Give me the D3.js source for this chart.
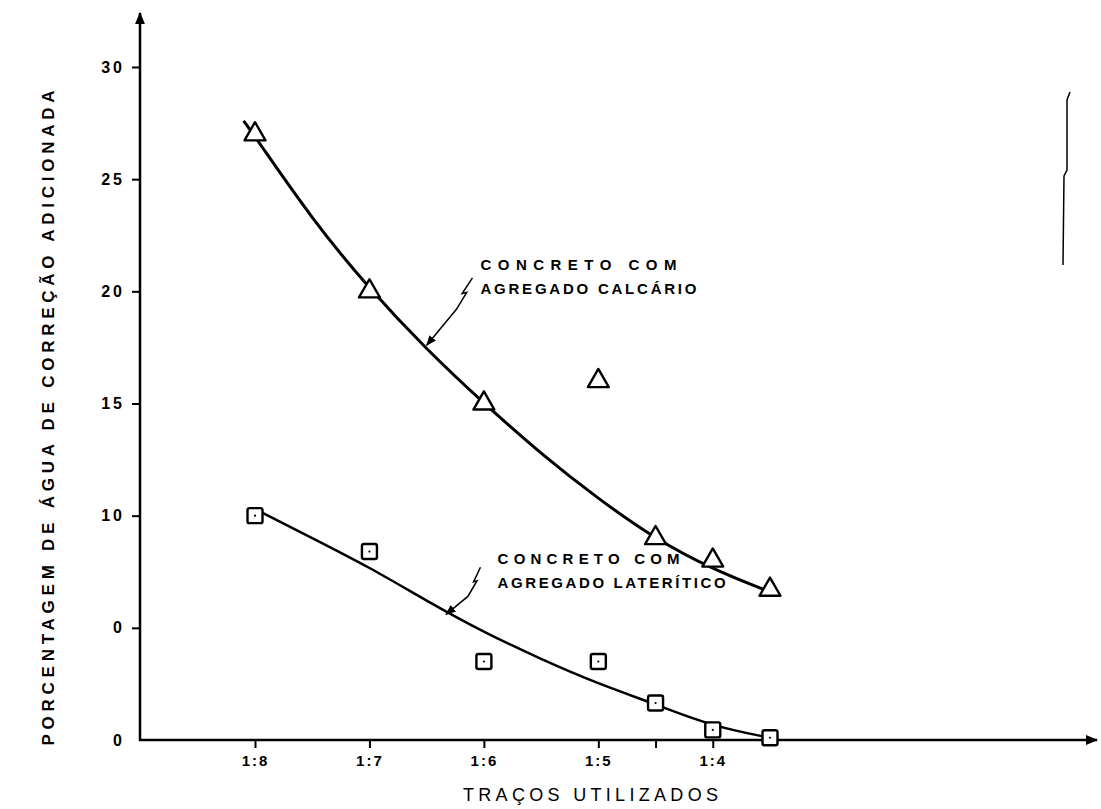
<!doctype html>
<head>
    <meta charset="utf-8">
    <title>Porcentagem de agua de correcao</title>
    <script src="https://d3js.org/d3.v7.min.js"></script>
    <style>
        body {margin:0; background:#fff;}
        svg {display:block;}
        .tick text {font-family:"Liberation Sans", Arial, sans-serif; font-weight:bold; fill:#000;}
        .tick line {stroke:#000; stroke-width:2;}
        .lbl {font-family:"Liberation Sans", Arial, sans-serif; font-weight:bold; font-size:15px; fill:#000;}
    </style>
</head>
<body>
<script>
    "use strict";
    // tracos (1:m) -> m
    var xTicks = [8, 7, 6, 5, 4.5, 4];
    var xTickLabels = ["1:8", "1:7", "1:6", "1:5", "", "1:4"];
    var yTicks = [0, 5, 10, 15, 20, 25, 30];
    var yTickLabels = ["0", "0", "10", "15", "20", "25", "30"]; // scan prints "0" at 5

    // medidos
    var tracos = [8, 7, 6, 5, 4.5, 4, 3.5];
    var calcario = [27, 20, 15, 16, 9, 8, 6.7];
    var lateritico = [10, 8.4, 3.5, 3.5, 1.65, 0.45, 0.1];

    // curvas ajustadas
    var calcCurveX = [8.1, 8, 7.5, 7, 6.5, 6, 5.5, 5, 4.5, 4, 3.5];
    var calcCurveY = [27.6, 26.9, 23.2, 20.1, 17.4, 15.0, 12.75, 10.75, 8.95, 7.6, 6.6];
    var latCurveX = [8, 7.5, 7, 6.5, 6, 5.5, 5, 4.5, 4, 3.5];
    var latCurveY = [10.3, 9.0, 7.7, 6.2, 4.8, 3.6, 2.5, 1.6, 0.6, 0.1];

    var W = 1101, H = 809;
    var x = d3.scaleLinear().domain([8, 3.5]).range([255, 770]);
    var y = d3.scaleLinear().domain([0, 30]).range([740, 67]);
    var x0 = 140, y0 = 740;

    var svg = d3.select("body").append("svg").attr("width", W).attr("height", H);

    var defs = svg.append("defs");
    defs.append("marker").attr("id", "arr").attr("viewBox", "0 0 10 10")
        .attr("refX", 9).attr("refY", 5).attr("markerWidth", 5).attr("markerHeight", 5)
        .attr("markerUnits", "strokeWidth").attr("orient", "auto")
        .append("path").attr("d", "M0,1 L10,5 L0,9 Z").attr("fill", "#000");
    defs.append("marker").attr("id", "arrSmall").attr("viewBox", "0 0 10 10")
        .attr("refX", 9).attr("refY", 5).attr("markerWidth", 7).attr("markerHeight", 7)
        .attr("markerUnits", "strokeWidth").attr("orient", "auto")
        .append("path").attr("d", "M0,1 L10,5 L0,9 Z").attr("fill", "#000");

    // axes
    var xAxis = svg.append("g").attr("transform", "translate(0," + y0 + ")")
        .call(d3.axisBottom(x).tickValues(xTicks).tickSize(8).tickPadding(7)
            .tickFormat(function(d, i) { return xTickLabels[i]; }));
    xAxis.select(".domain").remove();
    xAxis.attr("font-size", 15);
    xAxis.selectAll("text").attr("letter-spacing", "2px");

    var yAxis = svg.append("g").attr("transform", "translate(" + x0 + ",0)")
        .call(d3.axisLeft(y).tickValues(yTicks).tickSize(8).tickPadding(7)
            .tickFormat(function(d, i) { return yTickLabels[i]; }));
    yAxis.select(".domain").remove();
    yAxis.attr("font-size", 16);
    yAxis.selectAll(".tick").filter(function(d) { return d === 0; }).select("line").remove();
    yAxis.selectAll("text").attr("letter-spacing", "3px");

    svg.append("line").attr("x1", x0 - 1).attr("y1", y0).attr("x2", 1097).attr("y2", y0)
        .attr("stroke", "#000").attr("stroke-width", 2.5).attr("marker-end", "url(#arr)");
    svg.append("line").attr("x1", x0).attr("y1", y0 + 1).attr("x2", x0).attr("y2", 13)
        .attr("stroke", "#000").attr("stroke-width", 2.5).attr("marker-end", "url(#arr)");

    // scan mark on the right edge
    svg.append("path").attr("d", "M1070,92 L1067,100 L1067,170 L1064,176 L1063,265")
        .attr("fill", "none").attr("stroke", "#000").attr("stroke-width", 1.5);

    // titles
    svg.append("text")
        .attr("transform", "translate(54,418) rotate(-90)")
        .attr("text-anchor", "middle")
        .attr("textLength", 655).attr("lengthAdjust", "spacing")
        .style("font-family", "'Liberation Sans', Arial, sans-serif")
        .style("font-weight", "bold").style("font-size", "17px")
        .text("PORCENTAGEM DE ÁGUA DE CORREÇÃO ADICIONADA");

    svg.append("text")
        .attr("x", 463).attr("y", 801)
        .attr("textLength", 255).attr("lengthAdjust", "spacing")
        .style("font-family", "'Liberation Sans', Arial, sans-serif")
        .style("font-size", "18px")
        .text("TRAÇOS UTILIZADOS");

    // curves
    var line = d3.line().curve(d3.curveBasis)
        .x(function(d) { return x(d[0]); }).y(function(d) { return y(d[1]); });
    svg.append("path").datum(d3.zip(calcCurveX, calcCurveY)).attr("d", line)
        .attr("fill", "none").attr("stroke", "#000").attr("stroke-width", 3);
    svg.append("path").datum(d3.zip(latCurveX, latCurveY)).attr("d", line)
        .attr("fill", "none").attr("stroke", "#000").attr("stroke-width", 2.5);

    // markers
    var tri = d3.symbol().type(d3.symbolTriangle).size(190);
    svg.selectAll(".tri").data(d3.zip(tracos, calcario)).enter().append("path")
        .attr("class", "tri")
        .attr("transform", function(d) { return "translate(" + x(d[0]) + "," + y(d[1]) + ")"; })
        .attr("d", tri).attr("fill", "#fff").attr("stroke", "#000").attr("stroke-width", 2.4)
        .attr("stroke-linejoin", "round");

    var sq = svg.selectAll(".sq").data(d3.zip(tracos, lateritico)).enter().append("g")
        .attr("class", "sq")
        .attr("transform", function(d) { return "translate(" + x(d[0]) + "," + y(d[1]) + ")"; });
    sq.append("rect").attr("x", -7.5).attr("y", -7.5).attr("width", 15).attr("height", 15).attr("rx", 2)
        .attr("fill", "#fff").attr("stroke", "#000").attr("stroke-width", 2.4);
    sq.append("circle").attr("r", 1.1).attr("fill", "#000");

    // annotations
    function label(mx, vy, lines, widths) {
        var t = svg.append("text").attr("class", "lbl");
        lines.forEach(function(s, i) {
            t.append("tspan").attr("x", x(mx)).attr("y", y(vy) + i * 24)
                .attr("textLength", widths[i]).attr("lengthAdjust", "spacing").text(s);
        });
    }
    label(6.03, 20.95, ["CONCRETO COM", "AGREGADO CALCÁRIO"], [196, 216]);
    label(5.88, 7.85, ["CONCRETO COM", "AGREGADO LATERÍTICO"], [182, 228]);

    function leader(pts) {
        svg.append("path")
            .attr("d", d3.line()(pts.map(function(p) { return [x(p[0]), y(p[1])]; })))
            .attr("fill", "none").attr("stroke", "#000").attr("stroke-width", 1.5)
            .attr("marker-end", "url(#arrSmall)");
    }
    leader([[6.1, 20.6], [6.19, 19.9], [6.15, 19.95], [6.24, 19.2], [6.5, 17.6]]);
    leader([[6.03, 7.7], [6.09, 7.05], [6.06, 7.1], [6.14, 6.4], [6.33, 5.6]]);
</script>
</body>
</html>
